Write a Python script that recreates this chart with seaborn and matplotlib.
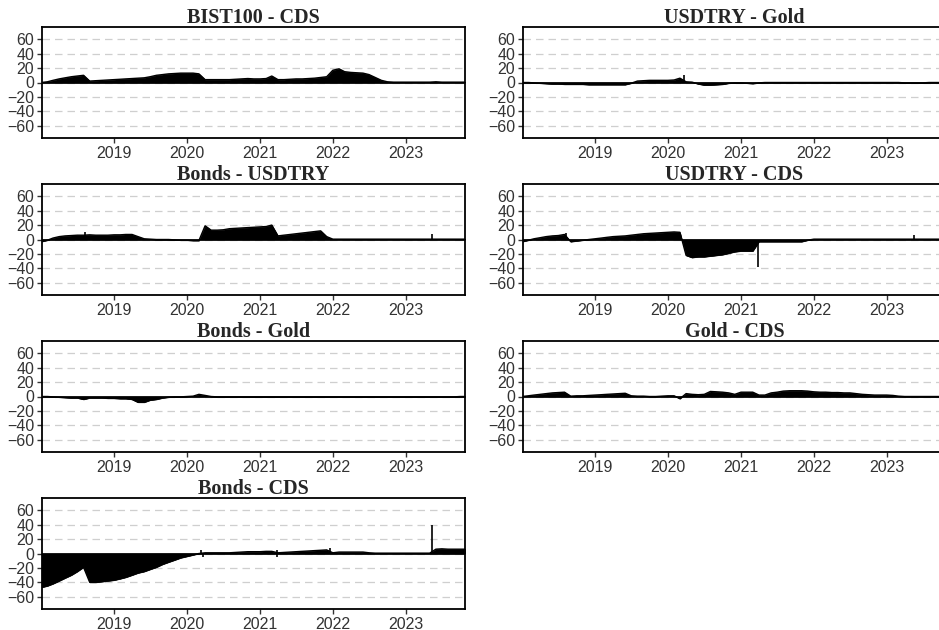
import pandas as pd
import seaborn as sns
import matplotlib.pyplot as plt
import matplotlib.dates as mdates

# Monthly observations, Jan 2018 - Nov 2023
dates = pd.date_range("2018-01-01", periods=71, freq="MS")

bist_cds = [0, 1, 3, 5, 6.5, 8, 9, 10, 2, 2.5, 3, 3.5,
            4, 4.5, 5, 5.5, 6, 6.5, 8, 10, 11, 12, 12.5, 13,
            13, 13, 12, 4, 4, 4, 4, 4, 4.5, 5, 5.5, 5,
            5, 5.5, 9, 4, 4, 4.5, 5, 5, 5.5, 6, 7, 8,
            17, 19, 15, 14, 13.5, 13, 11, 7, 3, 1, 0.5, 0.5,
            0.5, 0.5, 0.5, 0.5, 0.5, 1, 0.5, 0.5, 0.5, 0.5, 0.5]

usdtry_gold = [0, 0, -0.5, -1, -1.5, -2, -2, -2.5, -2.5, -2.5, -2.5, -3,
               -3, -3, -3, -3, -3, -3, -1, 2, 2.5, 3, 3, 3,
               3, 3.5, 6, 1, 0.5, -2, -3.5, -3.5, -3, -2.5, -1, -0.5,
               -0.5, -1, -1.5, -0.5, 0, 0, 0, 0, 0, 0, 0, 0,
               0, 0, 0, 0, 0, 0, 0, 0, 0, 0, 0, 0,
               0, 0, 0, -0.5, -0.5, -0.5, -0.5, 0, 0, 0, 0]

bonds_usdtry = [-3, -1, 2, 4, 5, 5.5, 6, 6, 6.5, 6, 6, 6,
                6.5, 6.5, 7, 7, 4, 1, 0.5, 0, 0, 0, -0.5, -1,
                -1, -1.5, -1.5, 19, 13, 13, 13.5, 15, 15.5, 16, 16.5, 17,
                17.5, 18, 20, 5, 6, 7, 8, 9, 10, 11, 12, 4,
                0.5, 0.5, 0.5, 0.5, 0.5, 0.5, 0.5, 0.5, 0.5, 0.5, 0.5, 0.5,
                0.5, 0.5, 0.5, 0.5, 0.5, 0.5, 0.5, 0.5, 0.5, 0.5, 0.5]

usdtry_cds = [-3, -1, 1, 2.5, 4, 5, 5.5, 7, -3, -2, -1, 0,
              1, 2, 3, 4, 4.5, 5, 6, 7, 8, 8.5, 9, 9.5,
              10, 10.5, 10, -22, -25, -24, -24, -23, -22, -21, -19, -17,
              -16, -16, -16, -3, -3, -3, -3, -3, -3, -3, -3, -1,
              0.5, 0.5, 0.5, 0.5, 0.5, 0.5, 0.5, 0.5, 0.5, 0.5, 0.5, 0.5,
              0.5, 0.5, 0.5, 0.5, 0.5, 0.5, 0.5, 0.5, 0.5, 0.5, 0.5]

bonds_gold = [0, 0, -0.5, -1, -1.5, -2, -2, -4, -2, -2, -2, -2.5,
              -2.5, -3, -3, -4, -8, -8, -5, -4, -2, -1, -0.5, -0.5,
              0, 0.5, 3, 1.5, 0, -0.5, -0.5, -0.5, -0.5, -0.5, -0.5, -0.5,
              -0.5, -0.5, -0.5, -0.5, -0.5, -0.5, -0.5, -0.5, -0.5, -0.5, -0.5, -0.5,
              -0.5, -0.5, -0.5, -0.5, -0.5, -0.5, -0.5, -0.5, -0.5, -0.5, -0.5, -0.5,
              -0.5, -0.5, -0.5, -0.5, -0.5, -0.5, -0.5, -0.5, -0.5, 0, 0]

gold_cds = [0, 1, 2, 3, 4, 5, 5.5, 6, 0.5, 1, 1, 1.5,
            2, 2.5, 3, 3.5, 4, 4.5, 1, 0.5, 0.5, 0, 0, 0.5,
            1, 1, -3, 4, 3, 2.5, 3, 7, 6.5, 6, 5, 3,
            6, 6, 6, 2, 2, 5, 6, 7.5, 8, 8, 8, 7.5,
            6.5, 6, 6, 5.5, 5.5, 5, 5, 4, 3, 2.5, 2, 2,
            2, 1.5, 0.5, 0, 0, 0, 0, 0, 0, 0, 0]

bonds_cds = [-47, -45, -42, -38, -34, -30, -25, -19, -40, -40, -39, -38,
             -37, -35, -33, -30, -27, -25, -22, -19, -15, -12, -9, -6,
             -4, -2, 0, 1, 1, 1, 1, 1, 1.5, 2, 2.5, 2.5,
             2.5, 3, 3, 1, 1.5, 2, 2.5, 3, 3.5, 4, 4.5, 5,
             1, 2, 2, 2, 2, 2, 1, 0.5, 0.5, 0.5, 0.5, 0.5,
             0.5, 0.5, 0.5, 0.5, 0.5, 6, 6.5, 6, 6, 6, 6]

# Short-lived spikes (date, value) per panel
spikes = {
    "USDTRY - Gold": (["2020-03-20"], [10]),
    "Bonds - USDTRY": (["2018-08-10", "2023-05-15"], [11, 7]),
    "USDTRY - CDS": (["2018-08-10", "2021-03-25", "2023-05-20"], [9, -38, 6]),
    "Bonds - CDS": (["2020-03-10", "2020-03-20", "2021-03-25", "2021-03-28",
                     "2021-12-20", "2023-05-15"], [5, -5, 5, -5, 7, 40]),
}

panels = [("BIST100 - CDS", bist_cds), ("USDTRY - Gold", usdtry_gold),
          ("Bonds - USDTRY", bonds_usdtry), ("USDTRY - CDS", usdtry_cds),
          ("Bonds - Gold", bonds_gold), ("Gold - CDS", gold_cds),
          ("Bonds - CDS", bonds_cds)]

sns.set_style("white")
plt.rcParams["font.family"] = ["Liberation Sans", "DejaVu Sans"]

W, H = 939, 630
fig = plt.figure(figsize=(W / 100, H / 100), dpi=100)

# axes boxes in pixels: (left, top), width and height shared
lefts = [42, 523]
tops = [27, 184, 341, 498]
aw, ah = 423, 111

for i, (name, vals) in enumerate(panels):
    col, row = i % 2, i // 2
    ax = fig.add_axes([lefts[col] / W, 1 - (tops[row] + ah) / H, aw / W, ah / H])
    df = pd.DataFrame({"date": dates, "value": vals})

    ax.fill_between(df["date"], 0, df["value"], color="black", linewidth=0.5)
    sns.lineplot(data=df, x="date", y="value", ax=ax, color="black", linewidth=1.0)
    if name in spikes:
        sd, sv = spikes[name]
        ax.vlines(pd.to_datetime(sd), 0, sv, color="black", linewidth=1.2)
    ax.axhline(0, color="black", linewidth=1.2)

    ax.set_ylim(-77, 77)
    ax.set_xlim(pd.Timestamp("2018-01-05"), pd.Timestamp("2023-10-25"))
    ax.set_yticks([-60, -40, -20, 0, 20, 40, 60])
    ax.yaxis.grid(True, color="#cfcfcf", linestyle=(0, (6, 4)), linewidth=0.9)
    ax.xaxis.grid(False)
    ax.xaxis.set_major_locator(mdates.YearLocator())
    ax.xaxis.set_major_formatter(mdates.DateFormatter("%Y"))
    ax.set_xlabel("")
    ax.set_ylabel("")
    ax.tick_params(axis="both", labelsize=11.5, labelcolor="#333333",
                   length=3.5, width=1, color="#333333", direction="out",
                   bottom=True, left=True, pad=2)
    for s in ax.spines.values():
        s.set_color("black")
        s.set_linewidth(1.3)
    ax.set_title(name, family=["Liberation Serif", "DejaVu Serif"],
                 fontweight="bold", fontsize=14.5, pad=3)

fig.savefig("out.png", dpi=100)
plt.close(fig)
